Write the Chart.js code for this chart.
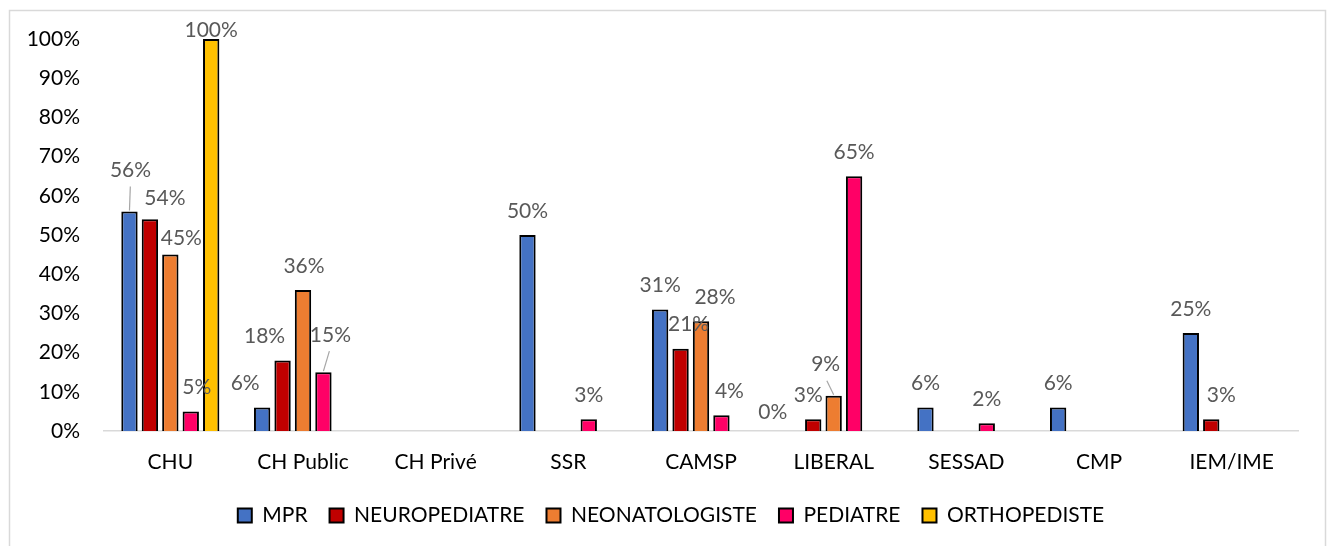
<!DOCTYPE html>
<html>
<head>
<meta charset="utf-8">
<script src="https://cdn.jsdelivr.net/npm/chart.js@4/dist/chart.umd.min.js"></script>
<style>
  html,body{margin:0;padding:0;background:#fff;}
  #wrap{width:1332px;height:546px;position:relative;}
</style>
</head>
<body>
<div id="wrap"><canvas id="c" width="1332" height="546"></canvas></div>
<script>
// ---- data ----
const categories = ['CHU','CH Public','CH Privé','SSR','CAMSP','LIBERAL','SESSAD','CMP','IEM/IME'];
const seriesNames = ['MPR','NEUROPEDIATRE','NEONATOLOGISTE','PEDIATRE','ORTHOPEDISTE'];
const mpr            = [56, 6, null, 50, 31, 0, 6, 6, 25];
const neuropediatre  = [54, 18, null, null, 21, 3, null, null, 3];
const neonatologiste = [45, 36, null, null, 28, 9, null, null, null];
const pediatre       = [5, 15, null, 3, 4, 65, 2, null, null];
const orthopediste   = [100, null, null, null, null, null, null, null, null];
const yTicks = [0,10,20,30,40,50,60,70,80,90,100];

// ---- styling (kept separate from data) ----
const colors = ['#4472C4','#C00000','#ED7D31','#FF0066','#FFC000'];
const FONT = 'Lato, "Open Sans", sans-serif';
const FS = 21;
// label nudges relative to default "outside end" position: key = series,category
const labelNudge = {
  '0,0':[1,-17], '1,0':[15,3], '2,0':[11,8], '3,0':[6,0], '4,0':[0,15],
  '0,1':[-17,0], '1,1':[-18,0], '2,1':[1,0], '3,1':[7,-13],
  '1,4':[8,0], '2,4':[14,0], '3,4':[8,0],
  '0,5':[-20,5], '1,5':[-5,0], '2,5':[-8,-7],
  '1,8':[10,0]
};
const leaderLines = ['0,0','3,1','2,5'];
const legendShift = 22;

const allSeries = [mpr, neuropediatre, neonatologiste, pediatre, orthopediste];

const framePlugin = {
  id:'frame',
  afterLayout(chart){
    if (chart.legend) {
      chart.legend.left += legendShift;
      chart.legend.right += legendShift;
    }
  },
  beforeDraw(chart){
    const ctx = chart.ctx;
    ctx.save();
    ctx.fillStyle='#fff';
    ctx.fillRect(0,0,chart.width,chart.height);
    ctx.strokeStyle='#d9d9d9';
    ctx.lineWidth=1.5;
    ctx.strokeRect(9.5,10.5,1316,600);
    ctx.restore();
  }
};

const labelPlugin = {
  id:'valueLabels',
  afterDatasetsDraw(chart){
    const ctx = chart.ctx;
    ctx.save();
    ctx.font = FS + 'px ' + FONT;
    ctx.textAlign='center';
    ctx.textBaseline='middle';
    chart.data.datasets.forEach((ds, si)=>{
      const meta = chart.getDatasetMeta(si);
      meta.data.forEach((bar, ci)=>{
        const v = ds.data[ci];
        if (v === null || v === undefined) return;
        const key = si+','+ci;
        const n = labelNudge[key] || [0,0];
        const lx = bar.x + n[0];
        const ly = bar.y - 24 + n[1];
        if (leaderLines.includes(key)) {
          ctx.strokeStyle='#a6a6a6';
          ctx.lineWidth=1.2;
          ctx.beginPath();
          ctx.moveTo(bar.x, bar.y-1);
          ctx.lineTo(bar.x + (lx-bar.x)*0.85, ly+16);
          ctx.stroke();
        }
        ctx.fillStyle='#595959';
        ctx.fillText(Math.round(v)+'%', lx, ly);
      });
    });
    ctx.restore();
  }
};

new Chart(document.getElementById('c'), {
  type:'bar',
  data:{
    labels: categories,
    datasets: seriesNames.map((name,i)=>({
      label:name,
      data: allSeries[i],
      backgroundColor: colors[i],
      borderColor:'#000',
      borderWidth:2,
      categoryPercentage:0.77,
      barPercentage:0.8
    }))
  },
  options:{
    responsive:false,
    animation:false,
    layout:{padding:{left:0,right:34,top:39,bottom:10}},
    plugins:{
      legend:{
        position:'bottom',
        labels:{
          font:{family:FONT,size:FS},
          color:'#000',
          boxWidth:14, boxHeight:14,
          padding:22
        }
      },
      tooltip:{enabled:false},
      title:{display:false}
    },
    scales:{
      x:{
        afterFit(s){ s.height = 52; },
        grid:{display:false, drawTicks:false},
        border:{display:true,color:'#d9d9d9',width:1.5},
        ticks:{font:{family:FONT,size:FS},color:'#000',padding:19, maxRotation:0, autoSkip:false}
      },
      y:{
        min:0,max:100,
        afterFit(s){ s.width = 104; },
        afterBuildTicks(s){ s.ticks = yTicks.map(v=>({value:v})); },
        grid:{display:false, drawTicks:false},
        border:{display:false},
        ticks:{font:{family:FONT,size:FS},color:'#000',padding:24, callback:v=>v+'%'}
      }
    }
  },
  plugins:[framePlugin,labelPlugin]
});
</script>
</body>
</html>
